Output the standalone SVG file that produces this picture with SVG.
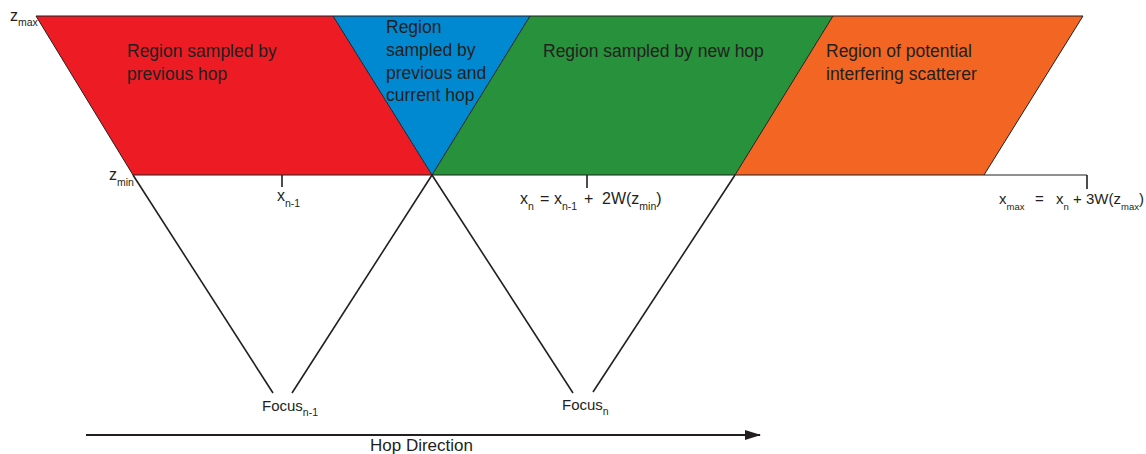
<svg xmlns="http://www.w3.org/2000/svg" width="1146" height="454" viewBox="0 0 1146 454">
  <style>
    text { font-family: "Liberation Sans", Arial, sans-serif; fill: #231f20; }
    .region { font-size: 17.5px; }
    .lbl { font-size: 16px; }
    .foc { font-size: 15px; }
    .sub { font-size: 10.5px; }
    .edge { stroke: #231f20; stroke-width: 1; fill: none; }
    .ray { stroke: #231f20; stroke-width: 1.6; fill: none; }
    .tick { stroke: #231f20; stroke-width: 1.6; }
  </style>
  <defs>
    <marker id="arrowhead" markerWidth="16" markerHeight="10" refX="15" refY="5" orient="auto" markerUnits="userSpaceOnUse">
      <path d="M0,0 L16,5 L0,10 Z" fill="#231f20"/>
    </marker>
  </defs>

  <!-- sampled regions between z_max and z_min -->
  <g id="region-previous">
    <polygon points="36,16 333,16 432,175 133,175" fill="#ed1c24"/>
    <text class="region" x="127" y="57">Region sampled by</text>
    <text class="region" x="127" y="80">previous hop</text>
  </g>
  <g id="region-overlap">
    <polygon points="333,16 530,16 432,175" fill="#0089d0"/>
    <text class="region" x="386" y="33">Region</text>
    <text class="region" x="386" y="56">sampled by</text>
    <text class="region" x="386" y="79">previous and</text>
    <text class="region" x="386" y="101">current hop</text>
  </g>
  <g id="region-new">
    <polygon points="530,16 833,16 735,175 432,175" fill="#27913b"/>
    <text class="region" x="543" y="57">Region sampled by new hop</text>
  </g>
  <g id="region-interfering">
    <polygon points="833,16 1083,16 984,175 735,175" fill="#f26522"/>
    <text class="region" x="826" y="57">Region of potential</text>
    <text class="region" x="826" y="80">interfering scatterer</text>
  </g>

  <!-- depth limits, boundaries and ticks -->
  <g id="connectors">
    <line class="edge" x1="36" y1="16" x2="1083" y2="16" stroke="#555"/>
    <line class="edge" x1="133" y1="175" x2="1087" y2="175"/>
    <line class="edge" x1="333" y1="16" x2="432" y2="175"/>
    <line class="edge" x1="530" y1="16" x2="432" y2="175"/>
    <line class="edge" x1="833" y1="16" x2="735" y2="175"/>
    <line class="edge" x1="1083" y1="16" x2="984" y2="175"/>
    <line class="edge" x1="36" y1="16" x2="133" y2="175"/>
    <!-- beam rays to each focus -->
    <line class="ray" x1="133" y1="175" x2="273" y2="393"/>
    <line class="ray" x1="432" y1="175" x2="292" y2="393"/>
    <line class="ray" x1="432" y1="175" x2="573" y2="393"/>
    <line class="ray" x1="735" y1="175" x2="593" y2="392"/>
    <line class="tick" x1="282" y1="175" x2="282" y2="187"/>
    <line class="tick" x1="587" y1="175" x2="587" y2="188"/>
    <line class="tick" x1="1087" y1="175" x2="1087" y2="189"/>
    <!-- hop direction arrow -->
    <line x1="86" y1="435" x2="760" y2="435" stroke="#231f20" stroke-width="2" marker-end="url(#arrowhead)"/>
  </g>

  <!-- axis and position labels -->
  <g id="label-zmax">
    <text class="lbl" x="10" y="21">z<tspan class="sub" dy="5">max</tspan></text>
  </g>
  <g id="label-zmin">
    <text class="lbl" x="109" y="180">z<tspan class="sub" dy="6">min</tspan></text>
  </g>
  <g id="label-xn1">
    <text class="lbl" x="277" y="201">x<tspan class="sub" dy="6">n-1</tspan></text>
  </g>
  <g id="label-xn">
    <text class="lbl" x="520" y="204">x<tspan class="sub" dy="6">n</tspan><tspan x="540" dy="-6">=</tspan><tspan x="554">x</tspan><tspan class="sub" dy="6">n-1</tspan><tspan x="584" dy="-6">+</tspan><tspan x="602">2W(z</tspan><tspan class="sub" dy="6">min</tspan><tspan dy="-6">)</tspan></text>
  </g>
  <g id="label-xmax">
    <text class="lbl" x="999" y="204" style="font-size:15px">x<tspan class="sub" dy="6" style="font-size:9.5px">max</tspan><tspan x="1035" dy="-6">=</tspan><tspan x="1056">x</tspan><tspan class="sub" dy="6" style="font-size:9.5px">n</tspan><tspan x="1073" dy="-6">+</tspan><tspan x="1086">3W(z</tspan><tspan class="sub" dy="6" style="font-size:9.5px">max</tspan><tspan dy="-6">)</tspan></text>
  </g>
  <g id="focus-prev">
    <text class="foc" x="262" y="411">Focus<tspan class="sub" dy="5">n-1</tspan></text>
  </g>
  <g id="focus-current">
    <text class="foc" x="562" y="410">Focus<tspan class="sub" dy="5">n</tspan></text>
  </g>
  <g id="hop-direction">
    <text x="370" y="451" font-size="17">Hop Direction</text>
  </g>
</svg>
